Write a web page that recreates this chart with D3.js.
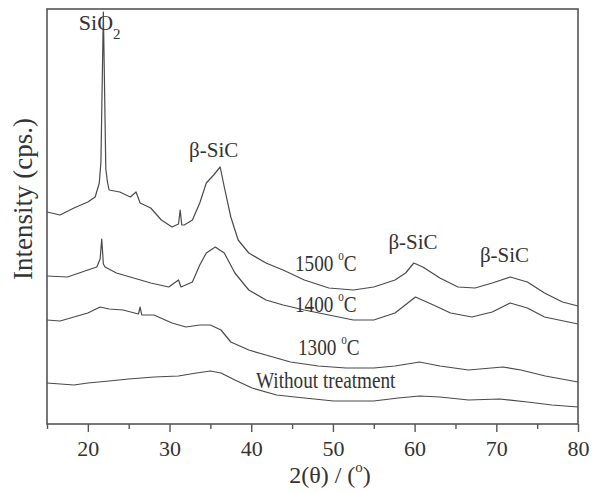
<!DOCTYPE html>
<html>
<head>
<meta charset="utf-8">
<script src="https://cdn.jsdelivr.net/npm/d3@7"></script>
<style>
  html, body { margin: 0; padding: 0; background: #fff; }
</style>
</head>
<body>
<svg id="chart"></svg>
<script>
// XRD patterns, [2theta (deg), intensity (arb. units)]
var s1500 = [
  [15, 212], [16.6, 209], [18.3, 216], [20, 222], [20.9, 227], [21.4, 241], [21.6, 262],
  [21.9, 412], [22.2, 255], [22.4, 242], [22.6, 234], [23.9, 232], [25.2, 227], [25.9, 232],
  [26.4, 221], [27.7, 216], [29, 204], [30.3, 197], [31.1, 200], [31.3, 214], [31.5, 199],
  [31.8, 199], [32.8, 204], [33.7, 221], [34.5, 241], [35.4, 249], [36.2, 257], [36.7, 237],
  [37.5, 207], [38.4, 184], [39.7, 171], [41.8, 161], [43.9, 154], [46.5, 144], [49.5, 136],
  [52.5, 134], [55, 137], [57.6, 144], [58.9, 151], [59.9, 161], [61, 157], [63.1, 146],
  [65.3, 137], [67.4, 136], [69.5, 141], [71.7, 147], [73.8, 142], [75.9, 131], [78.1, 122],
  [80, 118]
];
var s1400 = [
  [15, 148], [17.5, 147], [20, 154], [21.1, 157], [21.5, 165], [21.7, 185], [21.9, 160],
  [22.1, 157], [23.5, 151], [25.6, 146], [27.7, 141], [29.9, 137], [31.1, 144], [31.4, 137],
  [32.8, 142], [33.7, 159], [34.5, 171], [35.6, 177], [36.7, 171], [38, 151], [39.7, 134],
  [41.8, 124], [43.9, 119], [46.5, 114], [49.5, 109], [52.5, 104], [55, 104], [57.6, 111],
  [60.1, 127], [62.3, 119], [64.4, 111], [67, 107], [69.5, 112], [71.7, 121], [73.8, 116],
  [75.9, 107], [80, 100]
];
var s1300 = [
  [15, 104], [16.6, 103], [18.3, 107], [20, 111], [21.5, 117], [22.6, 115], [24.3, 114],
  [26.2, 110], [26.4, 117], [26.6, 109], [28.1, 109], [30.3, 101], [32, 97], [33.7, 99],
  [35, 99], [36.3, 94], [37.5, 82], [39.7, 74], [41.8, 69], [44.8, 62], [48.2, 58],
  [51.6, 56], [55, 56], [57.6, 58], [60.6, 62], [63.1, 58], [66.6, 54], [70.8, 57],
  [73, 54], [76, 48], [80, 42]
];
var sRaw = [
  [15, 41], [18.3, 39], [20, 41], [22.6, 43], [25, 45], [28.1, 47], [31.1, 48], [33.3, 51],
  [35, 53], [36.3, 51], [38, 44], [40.1, 36], [43.1, 29], [46.5, 26], [50.1, 23], [55, 23],
  [58, 26], [60.6, 28], [63.1, 27], [66.6, 24], [70.4, 25], [73.8, 22], [76.8, 19], [80, 17]
];
var seriesNames = ["1500", "1400", "1300", "Without treatment"];
var xTicks = [20, 30, 40, 50, 60, 70, 80];
var xMinorTicks = [15, 25, 35, 45, 55, 65, 75];

var serif = "'Liberation Serif', 'Times New Roman', Times, serif";

var svgWidth = 602, svgHeight = 493;
var margin = { top: 9, right: 24, bottom: 69, left: 47 };

var svg = d3.select("#chart")
  .attr("width", svgWidth)
  .attr("height", svgHeight)
  .attr("font-family", serif);

var x = d3.scaleLinear()
  .domain([15, 80])
  .range([margin.left, svgWidth - margin.right]);

var y = d3.scaleLinear()
  .domain([0, 415])
  .range([svgHeight - margin.bottom, margin.top]);

var line = d3.line()
  .x(d => x(d[0]))
  .y(d => y(d[1]));

//curves
svg.append("g")
    .attr("fill", "none")
    .attr("stroke", "#4a4a4a")
    .attr("stroke-width", 1.2)
    .attr("stroke-linejoin", "round")
  .selectAll("path")
  .data([s1500, s1400, s1300, sRaw])
  .join("path")
    .attr("d", d => line(d));

//frame
svg.append("rect")
  .attr("x", x(15))
  .attr("y", y(415))
  .attr("width", x(80) - x(15))
  .attr("height", y(0) - y(415))
  .attr("fill", "none")
  .attr("stroke", "#555")
  .attr("stroke-width", 1.6);

//bottom axis, major + minor ticks
var xAxis = svg.append("g")
  .attr("transform", `translate(0,${y(0)})`)
  .call(d3.axisBottom(x).tickValues(xTicks).tickSize(8).tickPadding(8).tickFormat(d3.format("d")))
  .attr("font-family", serif)
  .attr("font-size", 22);
xAxis.select(".domain").remove();
xAxis.selectAll("line").attr("stroke", "#555").attr("stroke-width", 1.4);
xAxis.selectAll("text").attr("fill", "#333");

svg.append("g")
  .attr("transform", `translate(0,${y(0)})`)
  .call(d3.axisBottom(x).tickValues(xMinorTicks).tickSize(5).tickFormat(""))
  .call(g => g.select(".domain").remove())
  .selectAll("line").attr("stroke", "#555").attr("stroke-width", 1.4);

//axis titles
var xTitle = svg.append("text")
  .attr("x", 330)
  .attr("y", 483)
  .attr("text-anchor", "middle")
  .attr("fill", "#333")
  .attr("font-family", serif)
  .attr("font-size", 24);
xTitle.append("tspan").text("2(θ) / (");
xTitle.append("tspan").text("o").attr("font-size", 15).attr("dy", -11);
xTitle.append("tspan").text(")").attr("dy", 11);

svg.append("text")
  .attr("transform", "translate(32,199) rotate(-90)")
  .attr("text-anchor", "middle")
  .attr("fill", "#333")
  .attr("font-family", serif)
  .attr("font-size", 27)
  .text("Intensity (cps.)");

//phase labels
var sio2 = svg.append("text")
  .attr("x", x(18.9))
  .attr("y", 30)
  .attr("fill", "#333")
  .attr("font-family", serif)
  .attr("font-size", 22);
sio2.append("tspan").text("SiO");
sio2.append("tspan").text("2").attr("font-size", 15).attr("dy", 9);

[[35.4, 157], [59.8, 249], [71, 262]].forEach(function(p){
  svg.append("text")
    .attr("x", x(p[0]))
    .attr("y", p[1])
    .attr("text-anchor", "middle")
    .attr("fill", "#333")
    .attr("font-family", serif)
    .attr("font-size", 21)
    .text("β-SiC");
});

//temperature labels (narrow face in the original)
function tempLabel(name, px, py){
  var t = svg.append("text")
    .attr("transform", `translate(${px},${py}) scale(0.8,1)`)
    .attr("fill", "#333")
    .attr("font-family", serif)
    .attr("font-size", 24);
  if(name.indexOf("Without") === 0){
    t.text(name);
  }else{
    t.append("tspan").text(name + " ");
    t.append("tspan").text("o").attr("font-size", 14).attr("dy", -11);
    t.append("tspan").text("C").attr("dy", 11);
  }
}
tempLabel(seriesNames[0], 295, 271);
tempLabel(seriesNames[1], 295, 312);
tempLabel(seriesNames[2], 298, 355);
tempLabel(seriesNames[3], 256, 388);
</script>
</body>
</html>
